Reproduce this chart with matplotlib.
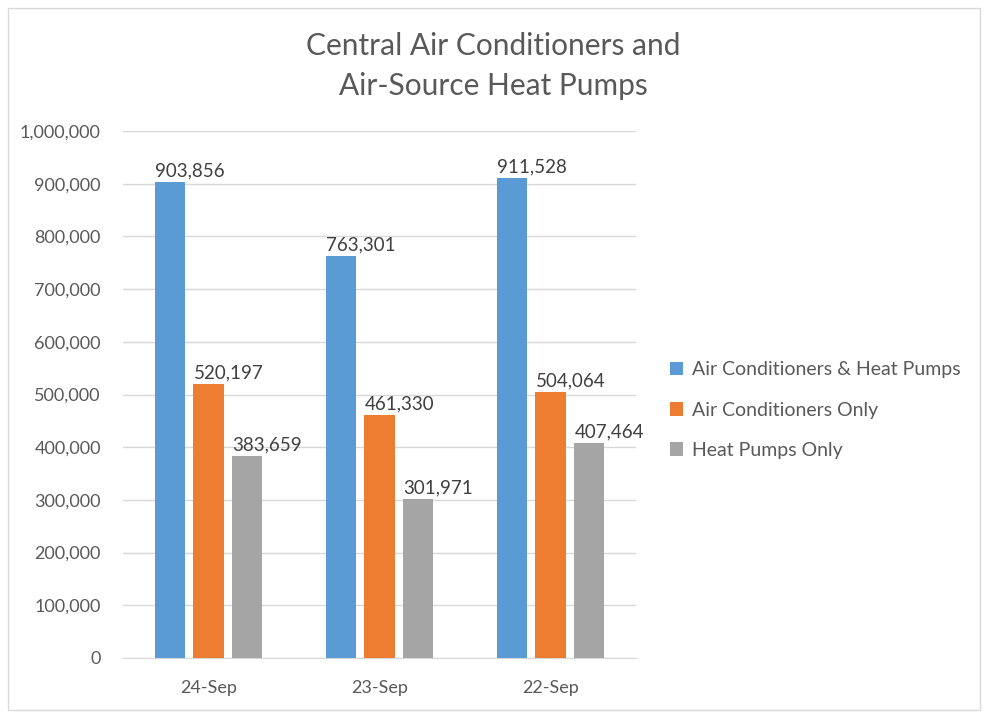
import matplotlib
matplotlib.use("Agg")
import matplotlib.pyplot as plt
from matplotlib.patches import Rectangle

categories = ["24-Sep", "23-Sep", "22-Sep"]
series_names = ["Air Conditioners & Heat Pumps", "Air Conditioners Only", "Heat Pumps Only"]
ac_hp = [903856, 763301, 911528]
ac_only = [520197, 461330, 504064]
hp_only = [383659, 301971, 407464]
colors = ["#5B9BD5", "#ED7D31", "#A5A5A5"]
title = "Central Air Conditioners and\nAir-Source Heat Pumps"

plt.rcParams['font.family'] = ['Lato', 'DejaVu Sans']
txt = "#595959"

fig = plt.figure(figsize=(9.89, 7.17), dpi=100)
fig.patches.append(Rectangle((8/989, 1-710/717), 972/989, 702/717, transform=fig.transFigure,
                             fill=False, edgecolor="#D9D9D9", linewidth=1))
ax = fig.add_axes([123/989, 1-658/717, 513/989, (658-131)/717])

width = 0.18
offsets = [-0.225, 0, 0.225]
x = list(range(len(categories)))
for vals, off, c, name in zip([ac_hp, ac_only, hp_only], offsets, colors, series_names):
    xs = [i + off for i in x]
    bars = ax.bar(xs, vals, width=width, color=c, label=name, zorder=3)
    for b, v in zip(bars, vals):
        ax.text(b.get_x() + 0.005, v + 5000, f"{v:,}", ha="left", va="bottom",
                fontsize=13.5, color="#404040")

ax.set_xlim(-0.5, 2.5)
ax.set_ylim(0, 1000000)
ax.set_yticks(range(0, 1000001, 100000))
ax.set_yticklabels([f"{v:,}" for v in range(0, 1000001, 100000)])
ax.set_xticks(x)
ax.set_xticklabels(categories)
ax.grid(axis="y", color="#D9D9D9", linewidth=1, zorder=0)
for s in ["top", "right", "left"]:
    ax.spines[s].set_visible(False)
ax.spines["bottom"].set_color("#D9D9D9")
ax.tick_params(axis="both", length=0, labelsize=13, colors=txt)
ax.tick_params(axis="x", pad=16)
ax.tick_params(axis="y", pad=16)

fig.text(493/989, 1-66/717, title, ha="center", va="center", fontsize=21.5, color=txt, linespacing=1.5)

leg = fig.legend(loc="center left", bbox_to_anchor=(652/989, 1-410/717), frameon=False,
                 fontsize=14, labelcolor=txt, handlelength=0.7, handleheight=0.7,
                 labelspacing=1.2, handletextpad=0.45)

fig.savefig("out.png", dpi=100)
